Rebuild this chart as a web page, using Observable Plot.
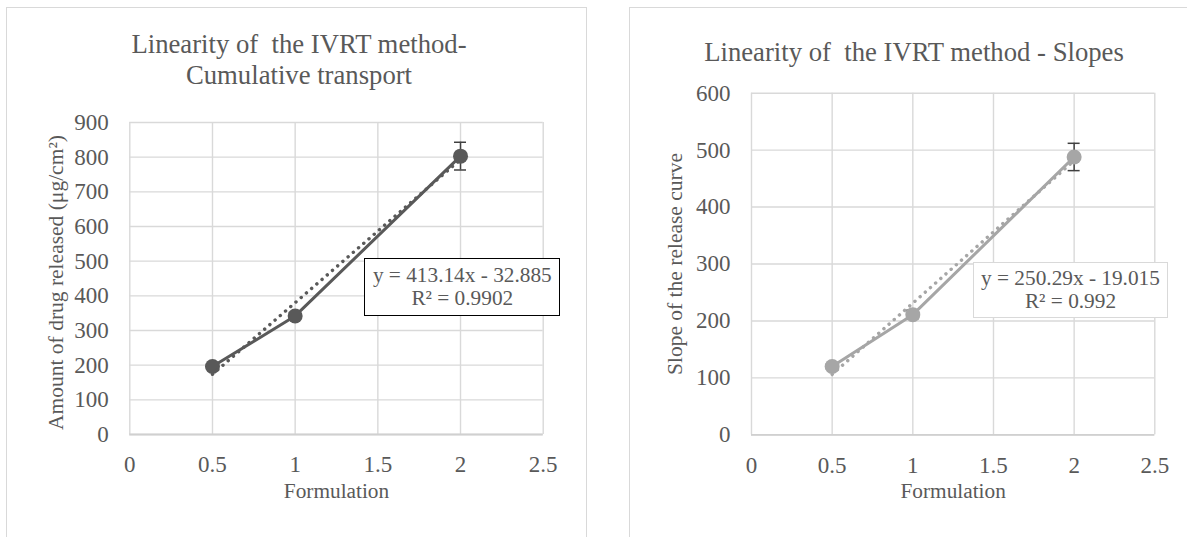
<!DOCTYPE html>
<html>
<head>
<meta charset="utf-8">
<script src="https://cdn.jsdelivr.net/npm/d3@7"></script>
<script src="https://cdn.jsdelivr.net/npm/@observablehq/plot@0.6"></script>
<style>
  html, body { margin: 0; padding: 0; background: #fff; }
  body { width: 1187px; height: 537px; overflow: hidden; position: relative;
         font-family: "Liberation Serif", "Times New Roman", serif; color: #595959; }
  .box { position: absolute; border: 1.3px solid #d9d9d9; box-sizing: border-box; }
  .plotwrap { position: absolute; top: 0; }
  .title { position: absolute; text-align: center; white-space: pre; font-size: 26.7px;
           line-height: 31.7px; color: #595959; }
  .eq { position: absolute; box-sizing: border-box; background: #fff; text-align: center;
        font-size: 21.3px; line-height: 23.5px; color: #595959; white-space: pre; }
</style>
</head>
<body>
<div class="box" style="left:6px; top:6.5px; width:581px; height:600px;"></div>
<div class="box" style="left:628.5px; top:6.5px; width:600px; height:600px;"></div>
<div id="left" class="plotwrap" style="left:0px;"></div>
<div id="right" class="plotwrap" style="left:610px;"></div>
<div id="titleL" class="title" style="left:0px; top:28.5px; width:598px;"></div>
<div id="titleR" class="title" style="left:629px; top:37.2px; width:570px;"></div>
<div id="eqL" class="eq" style="left:364.3px; top:258.3px; width:196px; height:57.4px; border:1.5px solid #000; padding-top:4.5px;"></div>
<div id="eqR" class="eq" style="left:972.7px; top:261.7px; width:195.6px; height:56.6px; border:1.3px solid #d9d9d9; padding-top:4px;"></div>
<script>
// ---- data ----
const formulation = [0.5, 1, 2];
const cumulative = [196, 342, 803];
const cumulativeErr = [6, 10, 40];
const slopeValues = [120, 211, 488];
const slopeErr = [4, 8, 24];

const xTicks = [0, 0.5, 1, 1.5, 2, 2.5];
const xTickLabels = ["0", "0.5", "1", "1.5", "2", "2.5"];
const yTicksCumulative = [0, 100, 200, 300, 400, 500, 600, 700, 800, 900];
const yTicksSlope = [0, 100, 200, 300, 400, 500, 600];

const trendSlope = [413.14, 250.29];
const trendIntercept = [-32.885, -19.015];
const rSquared = ["0.9902", "0.992"];

const titleLeft = ["Linearity of  the IVRT method-", "Cumulative transport"];
const titleRight = ["Linearity of  the IVRT method - Slopes"];
const yLabelLeft = "Amount of drug released (μg/cm²)";
const yLabelRight = "Slope of the release curve";
const xLabel = "Formulation";

// ---- chart builder ----
function chart({values, errs, yTicks, color, m, b, yLabel, width, marginLeft, marginRight, marginTop, marginBottom, labelDx, labelDy}) {
  const data = formulation.map((x, i) => ({x, y: values[i], e: errs[i]}));
  const xr = d3.extent(formulation);
  const trend = xr.map(x => ({x, y: m * x + b}));
  const grid = "#d9d9d9";
  const txt = "#595959";
  const bar = "#404040";
  return Plot.plot({
    width, height: 537, marginLeft, marginRight, marginTop, marginBottom,
    style: {background: "transparent", fontFamily: "'Liberation Serif', 'Times New Roman', serif", fontSize: "23px", color: txt},
    x: {domain: [xTicks[0], xTicks[xTicks.length - 1]]},
    y: {domain: [yTicks[0], yTicks[yTicks.length - 1]]},
    marks: [
      Plot.gridY({ticks: yTicks, stroke: grid, strokeOpacity: 1, strokeWidth: 1.4}),
      Plot.gridX({ticks: xTicks, stroke: grid, strokeOpacity: 1, strokeWidth: 1.4}),
      Plot.ruleY([yTicks[0]], {stroke: "#d0d0d0", strokeWidth: 1.8}),
      Plot.axisX({ticks: xTicks, tickSize: 0, tickPadding: 21.5, fontSize: 23, fill: txt,
                  tickFormat: d => xTickLabels[xTicks.indexOf(d)], label: null}),
      Plot.axisY({ticks: yTicks, tickSize: 0, tickPadding: 21, fontSize: 23, fill: txt,
                  tickFormat: d => String(d), label: null}),
      Plot.text([xLabel], {text: d => d, frameAnchor: "bottom", dy: 63, fontSize: 21.3, fill: txt}),
      Plot.text([yLabel], {text: d => d, frameAnchor: "left", textAnchor: "middle", rotate: -90, dx: labelDx, dy: labelDy, fontSize: 21.5, fill: txt}),
      // error bars
      Plot.ruleX(data, {x: "x", y1: d => d.y - d.e, y2: d => d.y + d.e, stroke: bar, strokeWidth: 1.5}),
      Plot.ruleY(data, {x1: "x", x2: "x", y: d => d.y + d.e, insetLeft: -6, insetRight: -6, stroke: bar, strokeWidth: 1.5}),
      Plot.ruleY(data, {x1: "x", x2: "x", y: d => d.y - d.e, insetLeft: -6, insetRight: -6, stroke: bar, strokeWidth: 1.5}),
      // series
      Plot.line(data, {x: "x", y: "y", stroke: color, strokeWidth: 3}),
      Plot.dot(data, {x: "x", y: "y", r: 7.5, fill: color, stroke: null}),
      // linear trendline from the displayed equation
      Plot.line(trend, {x: "x", y: "y", stroke: color, strokeWidth: 3.4, strokeDasharray: "0.1 6.8", strokeLinecap: "round"})
    ]
  });
}

document.getElementById("left").append(chart({
  values: cumulative, errs: cumulativeErr, yTicks: yTicksCumulative, color: "#595959",
  m: trendSlope[0], b: trendIntercept[0], yLabel: yLabelLeft,
  width: 600, marginLeft: 129.3, marginRight: 57.3, marginTop: 122, marginBottom: 103,
  labelDx: -74, labelDy: 4
}));
document.getElementById("right").append(chart({
  values: slopeValues, errs: slopeErr, yTicks: yTicksSlope, color: "#a6a6a6",
  m: trendSlope[1], b: trendIntercept[1], yLabel: yLabelRight,
  width: 577, marginLeft: 141, marginRight: 32.7, marginTop: 92.7, marginBottom: 102.7,
  labelDx: -76, labelDy: 0
}));

document.getElementById("titleL").textContent = titleLeft.join("\n");
document.getElementById("titleR").textContent = titleRight.join("\n");
const eqText = i => `y = ${trendSlope[i]}x - ${Math.abs(trendIntercept[i])}\nR² = ${rSquared[i]}`;
document.getElementById("eqL").textContent = eqText(0);
document.getElementById("eqR").textContent = eqText(1);
</script>
</body>
</html>
